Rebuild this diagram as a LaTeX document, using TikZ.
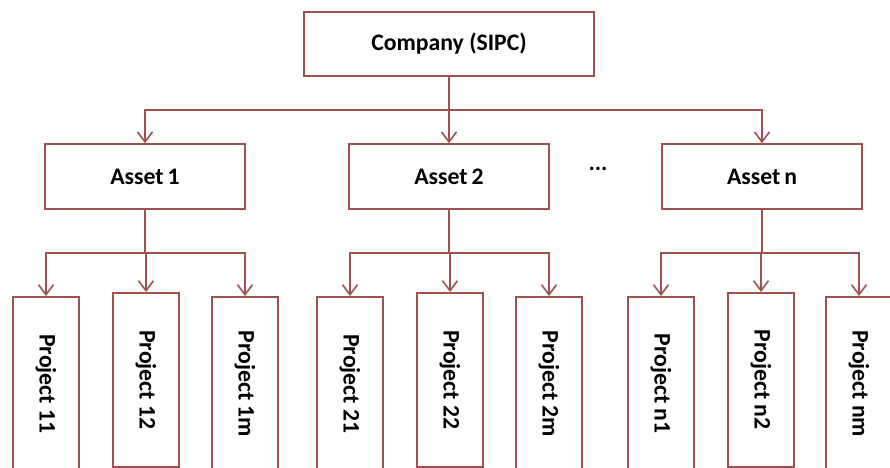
\documentclass[tikz,border=0pt]{standalone}
\usepackage{fontspec}
\setmainfont{Carlito}
\usepackage{graphicx}
\usepackage{xcolor}
\usepackage{tikz}
\usetikzlibrary{arrows.meta,positioning}

\definecolor{boxred}{RGB}{160,80,77}

\begin{document}
\begin{tikzpicture}[>={Straight Barb[length=2mm,width=3mm]},
  box/.style={draw=boxred, line width=0.9pt, fill=white, inner sep=0pt,
    font=\fontsize{13.5}{16}\selectfont\bfseries},
  compbox/.style={box, minimum width=5.8cm, minimum height=1.28cm},
  assetbox/.style={box, minimum width=4cm, minimum height=1.3cm},
  projbox/.style={box, anchor=north, minimum width=1.32cm, minimum height=3.48cm},
  link/.style={draw=boxred, line width=0.9pt, ->}]
\useasboundingbox (0,0) rectangle (17.8,9.34);
\clip (0,0) rectangle (17.8,9.34);
% --- top ---
\node[compbox] (comp) at (8.98,8.46) {Company (SIPC)};
% --- assets ---
\node[assetbox] (a1) at (2.9,5.81) {Asset\,1};
\node[assetbox] (a2) at (8.98,5.81) {Asset\,2};
\node[assetbox] (an) at (15.24,5.81) {Asset\,n};
\node[font=\fontsize{13.5}{16}\selectfont\bfseries] (dots) at (11.96,5.96) {...};
\coordinate (cbar) at (8.98,7.14);
\foreach \a in {a1,a2,an} {
  \draw[link] (comp.south) -- (cbar) -| (\a.north); }
% --- projects ---
\foreach \n/\x/\y/\lab in {p11/0.92/3.42/11, p12/2.92/3.50/12, p1m/4.9/3.42/1m,
    p21/7.0/3.42/21, p22/9.0/3.50/22, p2m/10.98/3.42/2m,
    pn1/13.22/3.42/n1, pn2/15.22/3.50/n2, pnm/17.18/3.42/nm} {
  \node[projbox] (\n) at (\x,\y) {\rotatebox{-90}{Project \lab}}; }
\coordinate (b1) at (2.9,4.28);
\coordinate (b2) at (8.98,4.28);
\coordinate (bn) at (15.24,4.28);
\foreach \p in {p11,p12,p1m} {
  \draw[link] (a1.south) -- (b1) -| (\p.north); }
\foreach \p in {p21,p22,p2m} {
  \draw[link] (a2.south) -- (b2) -| (\p.north); }
\foreach \p in {pn1,pn2,pnm} {
  \draw[link] (an.south) -- (bn) -| (\p.north); }
\end{tikzpicture}
\end{document}
